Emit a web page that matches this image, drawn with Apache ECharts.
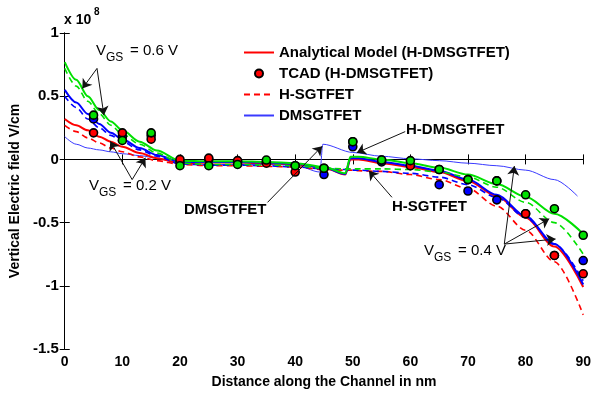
<!DOCTYPE html>
<html>
<head>
<meta charset="utf-8">
<script src="https://cdn.jsdelivr.net/npm/echarts@6/dist/echarts.min.js"></script>
<style>
  html, body { margin: 0; padding: 0; background: #fff; }
  #chart { width: 594px; height: 394px; }
</style>
</head>
<body>
<div id="chart"></div>
<script>
// model curves, sampled along the channel (nm); values in units of 1e8 V/cm
const xModel = [0, 2, 4, 6, 8, 10, 13, 16, 20, 25, 30, 35, 40, 45, 48.7, 49.6, 51, 55, 60, 65, 70, 75, 80, 85, 90];
const greenSolid = [0.77, 0.63, 0.50, 0.39, 0.30, 0.23, 0.14, 0.07, -0.01, -0.015, -0.015, -0.02, -0.03, -0.06, -0.11, 0.02, 0.02, 0.0, -0.03, -0.065, -0.12, -0.195, -0.295, -0.43, -0.59];
const greenDash = [0.72, 0.58, 0.46, 0.36, 0.27, 0.20, 0.12, 0.05, -0.03, -0.04, -0.04, -0.045, -0.05, -0.07, -0.075, -0.075, -0.075, -0.075, -0.08, -0.10, -0.14, -0.22, -0.34, -0.50, -0.75];
const blueSolid = [0.55, 0.45, 0.36, 0.28, 0.21, 0.16, 0.09, 0.035, -0.02, -0.02, -0.02, -0.025, -0.035, -0.065, -0.115, 0.01, 0.01, -0.02, -0.05, -0.09, -0.16, -0.28, -0.45, -0.67, -0.99];
const blueDash = [0.50, 0.41, 0.32, 0.25, 0.19, 0.14, 0.075, 0.025, -0.035, -0.045, -0.045, -0.05, -0.06, -0.075, -0.08, -0.085, -0.085, -0.095, -0.11, -0.14, -0.20, -0.30, -0.46, -0.67, -0.96];
const redSolid = [0.32, 0.27, 0.23, 0.18, 0.14, 0.10, 0.05, 0.01, -0.03, -0.025, -0.025, -0.03, -0.04, -0.065, -0.12, 0.0, 0.0, -0.03, -0.06, -0.10, -0.17, -0.29, -0.46, -0.69, -1.01];
const redDash = [0.27, 0.22, 0.17, 0.13, 0.09, 0.06, 0.02, -0.01, -0.04, -0.05, -0.05, -0.055, -0.06, -0.08, -0.085, -0.085, -0.09, -0.095, -0.12, -0.16, -0.23, -0.37, -0.56, -0.81, -1.23];

// DMSGTFET (thin blue) has its own peak near 45 nm
const xDms = [0, 2, 4, 6, 8, 10, 13, 16, 20, 25, 30, 35, 40, 44.3, 44.8, 50, 55, 60, 65, 70, 75, 80, 85, 89];
const dms = [0.18, 0.12, 0.09, 0.075, 0.06, 0.045, 0.03, 0.01, -0.035, -0.04, -0.04, -0.04, -0.045, -0.10, 0.12, 0.055, 0.025, 0.005, -0.01, -0.03, -0.05, -0.085, -0.16, -0.29];

// TCAD points
const xTcad = [5, 10, 15, 20, 25, 30, 35, 40, 45, 50, 55, 60, 65, 70, 75, 80, 85, 90];
const tcadGreen = [0.35, 0.15, 0.21, -0.05, -0.05, -0.04, -0.005, -0.05, -0.07, 0.14, -0.005, -0.01, -0.08, -0.16, -0.17, -0.28, -0.39, -0.60];
const tcadBlue = [0.32, 0.18, 0.19, -0.02, 0.0, -0.02, -0.02, -0.05, -0.12, 0.10, -0.02, -0.05, -0.20, -0.25, -0.32, -0.43, -0.76, -0.80];
const tcadRed = [0.21, 0.21, 0.16, 0.0, 0.01, -0.01, -0.03, -0.10, -0.07, 0.14, -0.005, -0.05, -0.08, -0.16, -0.17, -0.43, -0.76, -0.905];

// annotation arrows: [from, to] in data coords
const arrows = [
  [[5.6, 0.72], [3.05, 0.56]],
  [[5.6, 0.72], [6.8, 0.35]],
  [[11.7, -0.16], [7.9, 0.144]],
  [[11.7, -0.16], [14.0, 0.013]],
  [[35.2, -0.34], [44.7, 0.105]],
  [[59.1, 0.22], [50.7, 0.053]],
  [[56.8, -0.30], [52.8, -0.09]],
  [[76.3, -0.67], [78.05, -0.053]],
  [[76.3, -0.67], [84.1, -0.47]],
  [[76.3, -0.67], [85.2, -0.63]]
];

const FONT = '"Liberation Sans", Arial, sans-serif';
const pair = (xs, ys) => xs.map((x, i) => [x, ys[i]]);

const lineSeries = (name, xs, ys, color, width, dashed) => ({
  name, type: 'line', data: pair(xs, ys), symbol: 'none',
  smooth: 0.3, smoothMonotone: 'x',
  lineStyle: { color, width, type: dashed ? [6, 4] : 'solid' },
  itemStyle: { color },
  emphasis: { disabled: true }, z: 2,
});
const tcadSeries = (name, ys, color) => ({
  name, type: 'scatter', data: pair(xTcad, ys), symbol: 'circle', symbolSize: 8,
  itemStyle: { color, borderColor: '#000', borderWidth: 1.6, opacity: 1 },
  emphasis: { disabled: true }, z: 4,
});

const txt = (left, top, text, size, bold) => ({
  type: 'text', left, top, silent: true,
  style: { text, fill: '#000', font: (bold ? 'bold ' : '') + size + 'px ' + FONT },
});
const vgs = (left, top, val) => [
  txt(left, top, 'V', 15),
  txt(left + 10, top + 9, 'GS', 12),
  txt(left + 34, top, '= ' + val + ' V', 15),
];

const chart = echarts.init(document.getElementById('chart'), null, { renderer: 'canvas' });
const axisLbl = { color: '#000', fontFamily: FONT, fontWeight: 'bold', fontSize: 14 };
const axisLine = { show: true, lineStyle: { color: '#000', width: 1 } };
const tick = { show: true, inside: true, length: 5, lineStyle: { color: '#000' } };

const dmsSeries = lineSeries('DMSGTFET', xDms, dms, '#3a3aff', 1, false);
dmsSeries.markLine = {
  silent: true, animation: false, symbol: ['none', 'arrow'], symbolSize: 9,
  lineStyle: { color: '#111', width: 1, type: 'solid' },
  label: { show: false }, emphasis: { disabled: true },
  data: arrows.map(([a, b]) => [{ coord: a }, { coord: b }]),
};

const noDot = { opacity: 0 };

chart.setOption({
  backgroundColor: '#fff',
  animation: false,
  grid: { left: 64, right: 8, top: 33, bottom: 43 },
  legend: {
    orient: 'vertical', left: 238, top: 40, itemWidth: 30, itemHeight: 8, itemGap: 6,
    textStyle: { color: '#000', fontFamily: FONT, fontWeight: 'bold', fontSize: 15 },
    data: [
      { name: 'Analytical Model (H-DMSGTFET)', itemStyle: noDot },
      { name: 'TCAD (H-DMSGTFET)' },
      { name: 'H-SGTFET', itemStyle: noDot },
      { name: 'DMSGTFET', itemStyle: noDot },
    ],
    selectedMode: false,
  },
  xAxis: [
    {
      type: 'value', min: 0, max: 90, interval: 10,
      name: 'Distance along the Channel in nm', nameLocation: 'middle', nameGap: 26,
      nameTextStyle: { color: '#000', fontFamily: FONT, fontWeight: 'bold', fontSize: 14 },
      axisLine, axisTick: tick, axisLabel: { ...axisLbl, margin: 6 }, splitLine: { show: false },
    },
    {
      type: 'value', position: 'top', min: 0, max: 90, interval: 10,
      axisLine, axisTick: tick, axisLabel: { show: false }, splitLine: { show: false },
    },
  ],
  yAxis: [
    {
      type: 'value', min: -1.5, max: 1, interval: 0.5,
      name: 'Vertical Electric field V/cm', nameLocation: 'middle', nameGap: 40,
      nameTextStyle: { color: '#000', fontFamily: FONT, fontWeight: 'bold', fontSize: 14 },
      axisLine, axisTick: tick, axisLabel: { ...axisLbl, fontSize: 15, margin: 6 }, splitLine: { show: false },
    },
    {
      type: 'value', position: 'right', min: -1.5, max: 1, interval: 0.5,
      axisLine, axisTick: tick, axisLabel: { show: false }, splitLine: { show: false },
    },
  ],
  series: [
    dmsSeries,
    lineSeries('H-SGTFET', xModel, redDash, '#ff0000', 1.6, true),
    lineSeries('Analytical Model (H-DMSGTFET)', xModel, redSolid, '#ff0000', 2, false),
    lineSeries('H-SGTFET 0.4', xModel, blueDash, '#0000ff', 1.6, true),
    lineSeries('Analytical 0.4', xModel, blueSolid, '#0000ff', 2, false),
    lineSeries('H-SGTFET 0.6', xModel, greenDash, '#00e000', 1.6, true),
    lineSeries('Analytical 0.6', xModel, greenSolid, '#00e000', 2, false),
    tcadSeries('TCAD 0.4', tcadBlue, '#0000ff'),
    tcadSeries('TCAD (H-DMSGTFET)', tcadRed, '#ff0000'),
    tcadSeries('TCAD 0.6', tcadGreen, '#00e000'),
  ],
  graphic: [
    txt(64, 13, 'x 10', 14, true),
    txt(94, 7, '8', 10, true),
    ...vgs(96, 43, '0.6'),
    ...vgs(89, 178, '0.2'),
    ...vgs(424, 243, '0.4'),
    txt(184, 202, 'DMSGTFET', 15, true),
    txt(406, 122, 'H-DMSGTFET', 15, true),
    txt(392, 199, 'H-SGTFET', 15, true),
  ],
});
</script>
</body>
</html>
